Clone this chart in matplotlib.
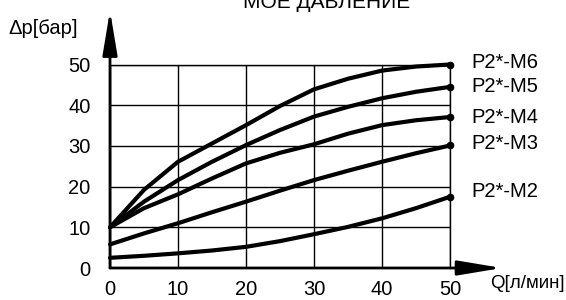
import matplotlib.pyplot as plt

plt.rcParams['font.family'] = ['Liberation Sans', 'DejaVu Sans']

flow = [0, 5, 10, 15, 20, 25, 30, 35, 40, 45, 50]
m6 = [10, 19.2, 26.1, 30.6, 35.1, 39.8, 43.9, 46.5, 48.5, 49.5, 50.0]
m5 = [10, 16.3, 21.6, 26.1, 30.2, 33.9, 37.2, 39.6, 41.7, 43.3, 44.5]
m4 = [10, 14.7, 18.1, 22.0, 25.7, 28.3, 30.4, 33.0, 35.1, 36.3, 37.1]
m3 = [5.8, 8.5, 11.0, 13.7, 16.3, 19.0, 21.6, 23.9, 26.1, 28.2, 30.1]
m2 = [2.5, 3.0, 3.6, 4.3, 5.2, 6.6, 8.3, 10.1, 12.2, 14.7, 17.5]
names = ["P2*-M6", "P2*-M5", "P2*-M4", "P2*-M3", "P2*-M2"]
label_y = [50.4, 44.7, 37.0, 30.5, 18.7]
ticks = [0, 10, 20, 30, 40, 50]

fs = 14.5

fig = plt.figure(figsize=(5.66, 3.0), dpi=100)
ax = fig.add_axes([110 / 566, 32 / 300, 340 / 566, 203.5 / 300])
ax.set_xlim(0, 50)
ax.set_ylim(0, 50)
ax.set_xticks(ticks)
ax.set_yticks(ticks)
ax.grid(True, color='k', lw=1)
ax.tick_params(length=0, labelsize=fs)
ax.tick_params(axis='x', pad=8.5)
ax.tick_params(axis='y', pad=14)
for s in ['top', 'right']:
    ax.spines[s].set_linewidth(1)
for s in ['left', 'bottom']:
    ax.spines[s].set_visible(False)

for ys, name, ly in zip([m6, m5, m4, m3, m2], names, label_y):
    ax.plot(flow, ys, color='k', lw=3, solid_capstyle='round',
            marker='o', markevery=[len(flow) - 1], markersize=4.5, clip_on=False)
    ax.text(53.2, ly, name, fontsize=fs, va='center', ha='left')

arrow = dict(arrowstyle='-|>,head_length=2.7,head_width=0.45', lw=2, color='k',
             shrinkA=0, shrinkB=0, mutation_scale=10)
ax.annotate('', xy=(1.153, 0), xytext=(0, 0), xycoords='axes fraction',
            arrowprops=arrow, annotation_clip=False)
ax.annotate('', xy=(0, 1.265), xytext=(0, 0), xycoords='axes fraction',
            arrowprops=arrow, annotation_clip=False)

fig.text(8 / 566, 1 - 29 / 300, "Δp[бар]", fontsize=fs, va='center', ha='left')
fig.text(490 / 566, 1 - 283 / 300, "Q[л/мин]", fontsize=13.5, va='center', ha='left')
fig.text(327 / 566, 1 - 8 / 300, "МОЕ ДАВЛЕНИЕ", fontsize=15, va='baseline', ha='center')

fig.savefig("out.png", dpi=100)
